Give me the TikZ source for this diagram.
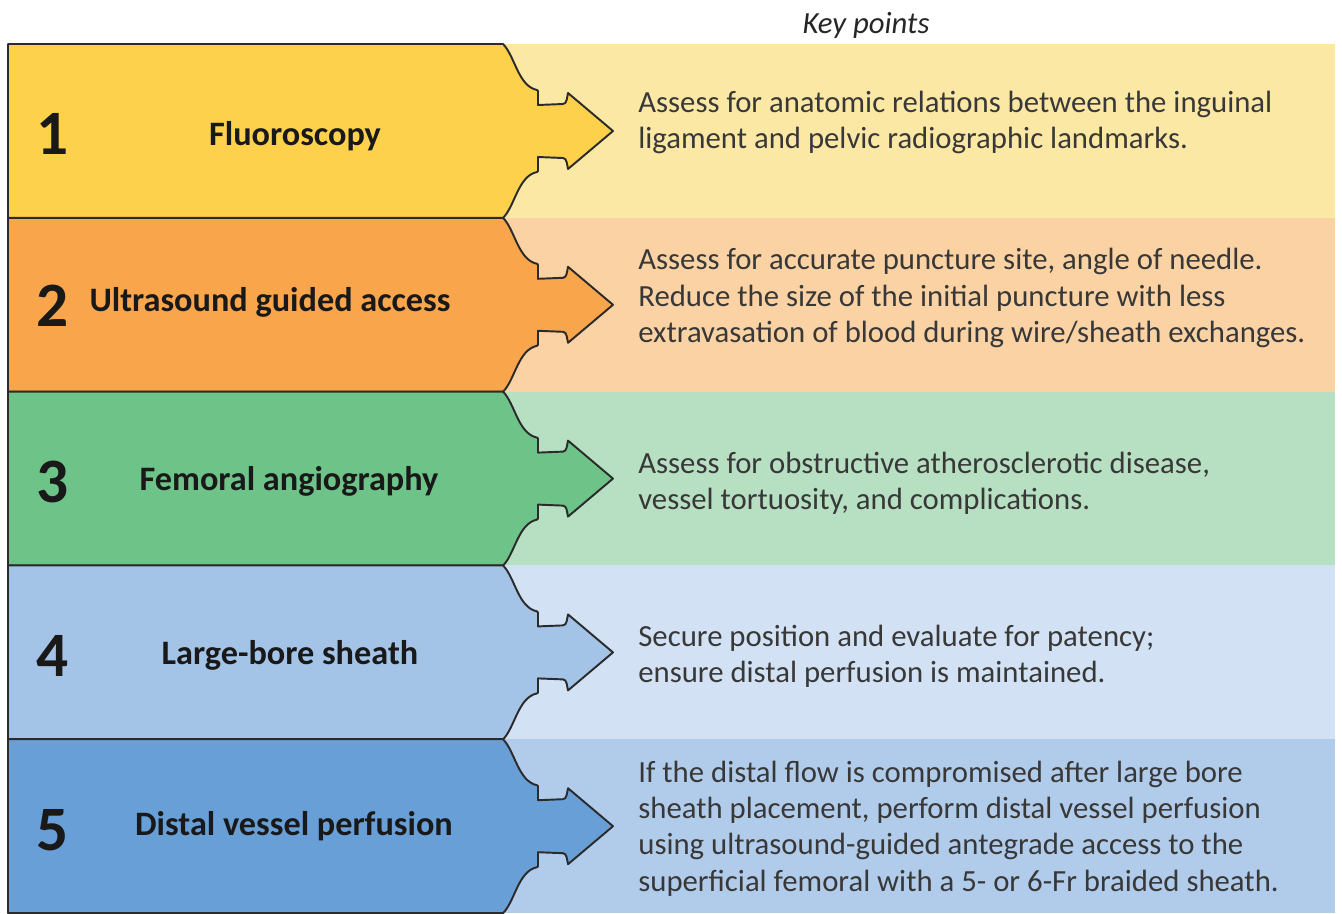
\documentclass[tikz,border=0pt]{standalone}
\usepackage{fontspec}
\setmainfont{Carlito}

\definecolor{yellowL}{HTML}{FDD14B}
\definecolor{yellowR}{HTML}{FCE8A5}
\definecolor{orangeL}{HTML}{F9A54B}
\definecolor{orangeR}{HTML}{FBD2A3}
\definecolor{greenL}{HTML}{6EC388}
\definecolor{greenR}{HTML}{B7DFC2}
\definecolor{skyL}{HTML}{A3C3E7}
\definecolor{skyR}{HTML}{D2E2F4}
\definecolor{blueL}{HTML}{699FD7}
\definecolor{blueR}{HTML}{B1CCEB}
\definecolor{outline}{HTML}{2B2B2B}

\begin{document}
\begin{tikzpicture}[x=0.02cm, y=-0.02cm,
    num node/.style={font=\fontsize{36}{36}\selectfont\bfseries, text=black!90},
    title node/.style={font=\fontsize{19.5}{22}\selectfont\bfseries, text=black!90},
    point node/.style={anchor=west, align=left, inner sep=0pt, text=black!78,
                       font=\fontsize{17.5}{20.7}\selectfont},
    % left box of a row, ending in the notched arrow
    row arrow/.pic={
        \filldraw[fill=#1, draw=outline, line width=1.1pt, line join=round]
            (0,0) -- (495,0)
            .. controls (507,12) and (510,42) .. (529,46)
            -- (530,47) -- (530,61) -- (555,60)
            .. controls (559,60) and (559,53) .. (560,49)
            -- (605,87) -- (560,125)
            .. controls (559,121) and (559,114) .. (555,114)
            -- (530,113) -- (530,127) -- (529,128)
            .. controls (510,132) and (507,162) .. (495,174)
            -- (0,174) -- cycle;
    }]
    \useasboundingbox (0,0) rectangle (1342,913);

    \node[font=\fontsize{17.5}{20}\selectfont\itshape, text=black!85] (key) at (866,25) {Key points};

    % right hand panels
    \fill[yellowR] (505,44)    rectangle (1335,217.8);
    \fill[orangeR] (505,217.8) rectangle (1335,391.6);
    \fill[greenR]  (505,391.6) rectangle (1335,565.4);
    \fill[skyR]    (505,565.4) rectangle (1335,739.2);
    \fill[blueR]   (505,739.2) rectangle (1335,913);

    % left boxes
    \path (8,44)    pic {row arrow=yellowL};
    \path (8,217.8) pic {row arrow=orangeL};
    \path (8,391.6) pic {row arrow=greenL};
    \path (8,565.4) pic {row arrow=skyL};
    \path (8,739.2) pic {row arrow=blueL};

    \node[num node] (1) at (53,134) {1};
    \node[num node] (2) at (53,306) {2};
    \node[num node] (3) at (53,482) {3};
    \node[num node] (4) at (53,656) {4};
    \node[num node] (5) at (53,830) {5};

    \node[title node] (l1) at (295,136) {Fluoroscopy};
    \node[title node] (l2) at (270,302) {Ultrasound guided access};
    \node[title node] (l3) at (289,481) {Femoral angiography};
    \node[title node] (l4) at (290,655) {Large-bore sheath};
    \node[title node] (l5) at (294,826) {Distal vessel perfusion};

    \node[point node] (k1) at (638,122.5) {Assess for anatomic relations between the inguinal\\
        ligament and pelvic radiographic landmarks.};
    \node[point node] (k2) at (638,298) {Assess for accurate puncture site, angle of needle.\\
        Reduce the size of the initial puncture with less\\
        extravasation of blood during wire/sheath exchanges.};
    \node[point node] (k3) at (638,483) {Assess for obstructive atherosclerotic disease,\\
        vessel tortuosity, and complications.};
    \node[point node] (k4) at (638,656) {Secure position and evaluate for patency;\\
        ensure distal perfusion is maintained.};
    \node[point node] (k5) at (638,828.5) {If the distal flow is compromised after large bore\\
        sheath placement, perform distal vessel perfusion\\
        using ultrasound-guided antegrade access to the\\
        superficial femoral with a 5- or 6-Fr braided sheath.};
\end{tikzpicture}
\end{document}
